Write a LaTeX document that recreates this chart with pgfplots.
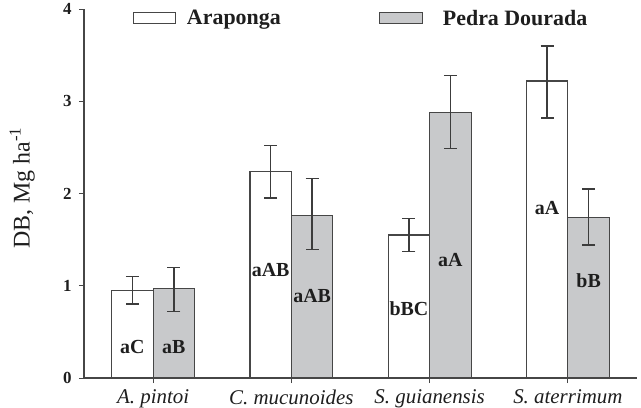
\documentclass[border=0pt]{standalone}
\usepackage{fontspec}
\setmainfont{Liberation Serif}
\usepackage{pgfplots}
\pgfplotsset{compat=1.18}
\usepackage{pgfplotstable}

\definecolor{barfill}{RGB}{200,201,203}
\definecolor{edge}{RGB}{70,70,70}
\definecolor{errc}{RGB}{60,60,60}
\definecolor{txt}{RGB}{30,30,30}

% dry biomass: bar position, mean, upper and lower error
\pgfplotstableread{
x      y     ep    em
-0.15  0.95  0.15  0.15
0.85   2.24  0.28  0.29
1.85   1.55  0.18  0.18
2.85   3.22  0.38  0.40
}\araponga
\pgfplotstableread{
x      y     ep    em
0.15   0.97  0.23  0.25
1.15   1.76  0.40  0.37
2.15   2.88  0.40  0.39
3.15   1.74  0.31  0.30
}\pedra

\begin{document}
\begin{tikzpicture}
\path[use as bounding box] (-84bp,-30bp) rectangle (557bp,378bp);
\begin{axis}[
  scale only axis,
  width=553bp, height=369bp,
  xmin=-0.5, xmax=3.5,
  ymin=0, ymax=4,
  axis x line*=bottom, axis y line*=left,
  axis line style={edge, line width=1.4bp},
  every tick/.style={edge, line width=1bp},
  tick align=outside,
  major tick length=5bp,
  xtick={0,1,2,3},
  xticklabels={A. pintoi, C. mucunoides, S. guianensis, S. aterrimum},
  xticklabel style={font=\itshape\fontsize{21}{21}\selectfont, text=txt, yshift=-3bp},
  ytick={0,1,2,3,4},
  yticklabel style={font=\bfseries\fontsize{17}{17}\selectfont, text=txt, xshift=-4bp},
  /pgf/number format/assume math mode=true,
  ylabel={DB, Mg ha\textsuperscript{-1}},
  ylabel style={font=\fontsize{24}{24}\selectfont, text=txt, at={(axis description cs:-0.112,0.515)}, anchor=center},
  legend columns=2,
  legend style={draw=none, fill=none, at={(axis cs:-0.147,3.9)}, anchor=west,
    inner sep=0pt, outer sep=0pt,
    font=\bfseries\fontsize{22}{22}\selectfont, text=txt,
    /tikz/every odd column/.append style={column sep=9bp},
    /tikz/every even column/.append style={column sep=96bp}},
  error bars/y dir=both,
  error bars/y explicit,
  error bars/error bar style={errc, line width=1.4bp},
  error bars/error mark options={errc, line width=1.4bp, mark size=6.5bp, rotate=90},
]
\addplot[ybar, bar width=0.3, bar shift=0, fill=white, draw=edge, line width=1.2bp,
  legend image code/.code={\draw[fill=white, draw=edge, line width=1.2bp] (0bp,-5.5bp) rectangle (42bp,5.5bp);}]
  table[x=x, y=y, y error plus=ep, y error minus=em] {\araponga};
\addlegendentry{Araponga}
\addplot[ybar, bar width=0.3, bar shift=0, fill=barfill, draw=edge, line width=1.2bp,
  legend image code/.code={\draw[fill=barfill, draw=edge, line width=1.2bp] (0bp,-5.5bp) rectangle (43bp,5.5bp); \path (52bp,0bp);}]
  table[x=x, y=y, y error plus=ep, y error minus=em] {\pedra};
\addlegendentry{Pedra Dourada}

% letters of the mean comparison test
\addplot[draw=none, mark=none, forget plot,
  nodes near coords, point meta=explicit symbolic,
  nodes near coords style={anchor=center, font=\bfseries\fontsize{20}{20}\selectfont, text=txt}]
  coordinates {
  (-0.15,0.34) [aC]
  (0.15,0.34) [aB]
  (0.85,1.17) [aAB]
  (1.15,0.89) [aAB]
  (1.85,0.75) [bBC]
  (2.15,1.28) [aA]
  (2.85,1.84) [aA]
  (3.15,1.06) [bB]
  };
\end{axis}
\end{tikzpicture}
\end{document}
